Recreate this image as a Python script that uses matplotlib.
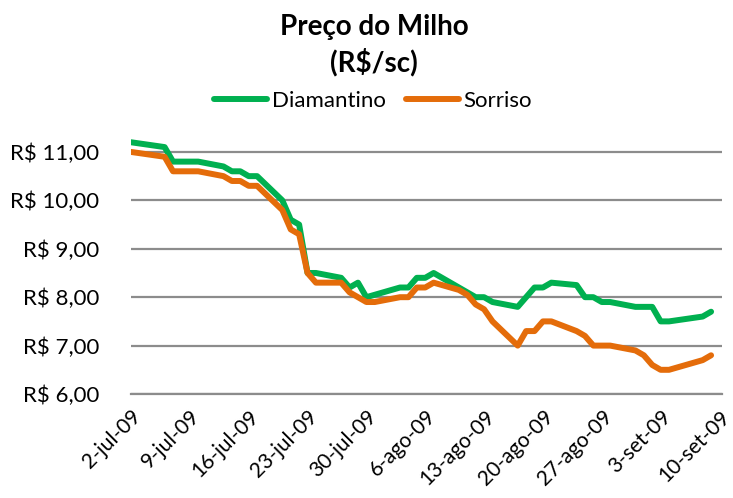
import matplotlib
matplotlib.use('Agg')
import matplotlib.pyplot as plt
import pandas as pd

# Preço do milho (R$/sc), jul-set 2009
dates = [
    '2009-07-02', '2009-07-06', '2009-07-07', '2009-07-08', '2009-07-09', '2009-07-10',
    '2009-07-13', '2009-07-14', '2009-07-15', '2009-07-16', '2009-07-17',
    '2009-07-20', '2009-07-21', '2009-07-22', '2009-07-23', '2009-07-24',
    '2009-07-27', '2009-07-28', '2009-07-29', '2009-07-30', '2009-07-31',
    '2009-08-03', '2009-08-04', '2009-08-05', '2009-08-06', '2009-08-07',
    '2009-08-10', '2009-08-11', '2009-08-12', '2009-08-13', '2009-08-14',
    '2009-08-17', '2009-08-18', '2009-08-19', '2009-08-20', '2009-08-21',
    '2009-08-24', '2009-08-25', '2009-08-26', '2009-08-27', '2009-08-28',
    '2009-08-31', '2009-09-01', '2009-09-02', '2009-09-03', '2009-09-04',
    '2009-09-08', '2009-09-09',
]
diamantino = [
    11.2, 11.1, 10.8, 10.8, 10.8, 10.8,
    10.7, 10.6, 10.6, 10.5, 10.5,
    10.0, 9.6, 9.5, 8.5, 8.5,
    8.4, 8.2, 8.3, 8.0, 8.05,
    8.2, 8.2, 8.4, 8.4, 8.5,
    8.2, 8.1, 8.0, 8.0, 7.9,
    7.8, 8.0, 8.2, 8.2, 8.3,
    8.25, 8.0, 8.0, 7.9, 7.9,
    7.8, 7.8, 7.8, 7.5, 7.5,
    7.6, 7.7,
]
sorriso = [
    11.0, 10.9, 10.6, 10.6, 10.6, 10.6,
    10.5, 10.4, 10.4, 10.3, 10.3,
    9.8, 9.4, 9.3, 8.5, 8.3,
    8.3, 8.1, 8.0, 7.9, 7.9,
    8.0, 8.0, 8.2, 8.2, 8.3,
    8.15, 8.05, 7.85, 7.75, 7.5,
    7.0, 7.3, 7.3, 7.5, 7.5,
    7.3, 7.2, 7.0, 7.0, 7.0,
    6.9, 6.8, 6.6, 6.5, 6.5,
    6.7, 6.8,
]
tick_dates = ['2009-07-02', '2009-07-09', '2009-07-16', '2009-07-23', '2009-07-30',
              '2009-08-06', '2009-08-13', '2009-08-20', '2009-08-27', '2009-09-03',
              '2009-09-10']
tick_labels = ['2-jul-09', '9-jul-09', '16-jul-09', '23-jul-09', '30-jul-09',
               '6-ago-09', '13-ago-09', '20-ago-09', '27-ago-09', '3-set-09',
               '10-set-09']
y_ticks = [6, 7, 8, 9, 10, 11]

plt.rcParams['font.family'] = ['Lato', 'DejaVu Sans']

fig = plt.figure(figsize=(7.33, 4.98), dpi=100)
ax = fig.add_axes([0.1787, 0.2088, 0.8063, 0.525])

x = pd.to_datetime(dates)
ax.plot(x, diamantino, color='#00B050', lw=4.3, solid_joinstyle='round',
        solid_capstyle='round', label='Diamantino', zorder=3)
ax.plot(x, sorriso, color='#E46C0A', lw=4.3, solid_joinstyle='round',
        solid_capstyle='round', label='Sorriso', zorder=3)

start = pd.Timestamp(tick_dates[0])
ax.set_xlim(start, start + pd.Timedelta(days=70.3))
ax.set_ylim(6, 11.4)

ax.set_yticks(y_ticks)
ax.set_yticklabels(['R$ {:.2f}'.format(v).replace('.', ',') for v in y_ticks])
ax.set_xticks(pd.to_datetime(tick_dates))
ax.set_xticklabels(tick_labels, rotation=45, ha='right', va='top',
                   rotation_mode='anchor')

ax.tick_params(axis='y', length=0, labelsize=16, pad=23)
ax.tick_params(axis='x', length=0, labelsize=15, pad=9)

ax.yaxis.grid(True, color='#8c8c8c', lw=1.6)
ax.set_axisbelow(True)
for side in ['top', 'right', 'left']:
    ax.spines[side].set_visible(False)
ax.spines['bottom'].set_color('#8c8c8c')
ax.spines['bottom'].set_linewidth(1.6)

fig.text(374 / 733, 1 - 27 / 498, 'Preço do Milho', ha='center', va='center',
         fontsize=20, fontweight='bold')
fig.text(374 / 733, 1 - 62 / 498, '(R$/sc)', ha='center', va='center',
         fontsize=20, fontweight='bold')

fig.legend(loc='center', bbox_to_anchor=(373 / 733, 1 - 101 / 498), ncol=2,
           frameon=False, fontsize=16, handlelength=2.4, handletextpad=0.2,
           columnspacing=0.9)

fig.savefig('out.png', dpi=100)
